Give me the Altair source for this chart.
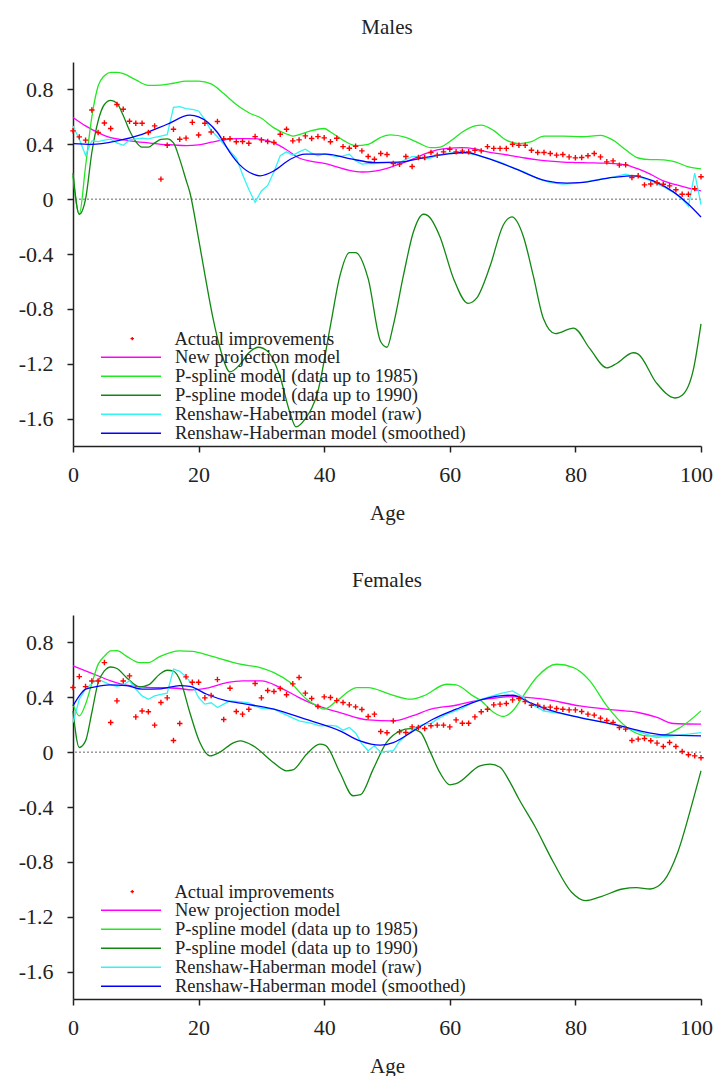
import altair as alt
import pandas as pd

FONT = "Liberation Serif"
TEXT_COLOR = "#222222"

SERIES = [
    "Actual improvements",
    "New projection model",
    "P-spline model (data up to 1985)",
    "P-spline model (data up to 1990)",
    "Renshaw-Haberman model (raw)",
    "Renshaw-Haberman model (smoothed)",
]
LINE_COLORS = ["#ff00ff", "#22e822", "#118811", "#33f4f4", "#0000ff"]
POINT_COLOR = "#ff0000"
PLUS = "M-1,0H1M0,-1V1"

X_TICKS = [0, 20, 40, 60, 80, 100]
Y_TICKS = [-1.6, -1.2, -0.8, -0.4, 0, 0.4, 0.8]

AGES = list(range(101))

# ---------------- Males ----------------
M_ACTUAL = [
    0.498, 0.454, 0.43, 0.65, 0.486, 0.555, 0.515, 0.69, 0.655, 0.568,
    0.553, 0.553, 0.486, 0.534, 0.146, 0.393, 0.51, 0.437, 0.445, 0.56,
    0.468, 0.553, 0.49, 0.566, 0.44, 0.44, 0.418, 0.42, 0.408, 0.456,
    0.432, 0.42, 0.413, 0.473, 0.51, 0.425, 0.432, 0.461, 0.442, 0.456,
    0.447, 0.418, 0.444, 0.383, 0.371, 0.386, 0.352, 0.311, 0.291, 0.333,
    0.325, 0.26, 0.255, 0.311, 0.238, 0.304, 0.304, 0.34, 0.32, 0.345,
    0.364, 0.345, 0.35, 0.345, 0.357, 0.352, 0.383, 0.37, 0.37, 0.37,
    0.40, 0.393, 0.393, 0.357, 0.34, 0.34, 0.333, 0.321, 0.325, 0.308,
    0.301, 0.304, 0.316, 0.333, 0.308, 0.272, 0.279, 0.248, 0.25, 0.158,
    0.17, 0.104, 0.11, 0.12, 0.109, 0.097, 0.068, 0.036, 0.036, 0.077,
    0.163,
]

M_NEW_AGE = list(range(0, 101, 2))
M_NEW_VAL = [
    0.595, 0.534, 0.485, 0.448, 0.432, 0.42, 0.41, 0.40, 0.395, 0.39,
    0.395, 0.415, 0.432, 0.442, 0.442, 0.436, 0.41, 0.36, 0.30, 0.275,
    0.26, 0.235, 0.21, 0.198, 0.205, 0.225, 0.255, 0.29, 0.33, 0.36,
    0.372, 0.375, 0.366, 0.345, 0.33, 0.316, 0.30, 0.287, 0.277, 0.27,
    0.267, 0.265, 0.263, 0.26, 0.25, 0.22, 0.18, 0.133, 0.105, 0.08,
    0.06,
]

M_PS85_AGE = [0, 1, 2, 3, 4, 5, 6, 7, 8, 10, 12, 14, 16, 18, 20, 22, 24, 26, 28, 30,
              32, 34, 35, 36, 38, 40, 41, 43, 45, 47, 49, 50.5, 53, 55, 57, 58.5, 60,
              62, 64, 65, 67, 69, 71, 73, 75, 78, 81, 84, 86, 88, 90, 92, 94, 96, 98, 100]
M_PS85_VAL = [0.17, -0.11, 0.24, 0.60, 0.825, 0.90, 0.925, 0.925, 0.915, 0.87, 0.83,
              0.832, 0.845, 0.86, 0.86, 0.84, 0.77, 0.69, 0.63, 0.59, 0.52, 0.475, 0.46,
              0.47, 0.50, 0.515, 0.49, 0.43, 0.39, 0.40, 0.45, 0.468, 0.45, 0.41, 0.375,
              0.38, 0.42, 0.49, 0.535, 0.54, 0.50, 0.43, 0.405, 0.42, 0.46, 0.46, 0.455,
              0.465, 0.43, 0.36, 0.30, 0.288, 0.287, 0.27, 0.235, 0.22]

M_PS90_AGE = [0, 1, 2, 3, 4, 5, 6, 7, 8, 9, 10, 11, 12, 13, 14, 15, 16, 17, 18, 18.6,
              20, 21, 22.3, 23.5, 25, 26.5, 28, 29.5, 31, 33, 34.5, 35.5, 37, 39, 41,
              42.5, 44, 45, 47, 49, 50, 51, 52.6, 54.2, 55.8, 56.5, 58.4, 60.6, 62.9,
              64.3, 66.4, 68.5, 69.9, 71.7, 73.3, 74.9, 76.8, 79.7, 82.3, 85, 86.5, 89.2,
              90, 92.9, 95.9, 97, 98.8, 100]
M_PS90_VAL = [0.19, -0.11, 0.0, 0.34, 0.57, 0.69, 0.72, 0.70, 0.61, 0.50, 0.42, 0.38,
              0.38, 0.41, 0.435, 0.44, 0.41, 0.29, 0.14, 0.05, -0.29, -0.55, -0.87, -1.1,
              -1.26, -1.21, -1.12, -1.08, -1.11, -1.30, -1.55, -1.66, -1.60, -1.40, -0.92,
              -0.56, -0.39, -0.39, -0.58, -1.04, -1.08, -0.92, -0.56, -0.24, -0.11, -0.12,
              -0.27, -0.58, -0.76, -0.72, -0.49, -0.19, -0.13, -0.27, -0.56, -0.87, -0.98,
              -0.94, -1.09, -1.23, -1.20, -1.12, -1.13, -1.34, -1.45, -1.43, -1.24, -0.91]

M_RAW_AGE = list(range(0, 61)) + [62, 64, 66, 68, 70, 72, 74, 76, 78, 80, 82, 84, 86,
                                  88, 89, 90, 92, 94, 96, 97, 98, 99, 100]
M_RAW_VAL = [0.534, 0.437, 0.32, 0.425, 0.42, 0.43, 0.437, 0.41, 0.393, 0.43,
             0.44, 0.445, 0.44, 0.45, 0.46, 0.47, 0.67, 0.675, 0.66, 0.655,
             0.643, 0.58, 0.50, 0.455, 0.40, 0.35, 0.30, 0.18, 0.07, -0.024,
             0.06, 0.10, 0.20, 0.316, 0.345, 0.32, 0.345, 0.364, 0.335, 0.316,
             0.33, 0.32, 0.31, 0.315, 0.328, 0.28, 0.255, 0.26, 0.26, 0.262,
             0.265, 0.265, 0.267, 0.29, 0.31, 0.31, 0.29, 0.30, 0.32, 0.33,
             0.335, 0.34, 0.325, 0.30, 0.27, 0.23, 0.195, 0.15, 0.12, 0.11,
             0.115, 0.13, 0.145, 0.16, 0.182, 0.17, 0.165, 0.135, 0.09, 0.04,
             0.0, -0.05, 0.19, -0.04]

M_SMO_AGE = [0, 3, 7, 11, 15, 18.6, 20, 23, 25, 26.6, 28.7, 29.8, 32, 34.6, 37, 40.4,
             44, 48, 52, 56, 59.5, 62.7, 64.8, 70, 75.4, 78.6, 80.7, 86, 89.2, 92.4,
             95.6, 97.7, 100]
M_SMO_VAL = [0.405, 0.40, 0.425, 0.473, 0.546, 0.612, 0.60, 0.486, 0.34, 0.248, 0.182,
             0.17, 0.206, 0.291, 0.328, 0.328, 0.296, 0.267, 0.27, 0.303, 0.328, 0.34,
             0.316, 0.23, 0.133, 0.117, 0.12, 0.158, 0.17, 0.133, 0.053, -0.024, -0.13]

# ---------------- Females ----------------
F_ACTUAL = [
    0.471, 0.551, 0.478, 0.519, 0.519, 0.653, 0.216, 0.374, 0.519, 0.556,
    0.257, 0.30, 0.294, 0.197, 0.362, 0.396, 0.085, 0.209, 0.549, 0.51,
    0.51, 0.396, 0.413, 0.529, 0.238, 0.466, 0.296, 0.277, 0.313, 0.50,
    0.396, 0.449, 0.442, 0.464, 0.418, 0.498, 0.544, 0.43, 0.391, 0.333,
    0.403, 0.398, 0.376, 0.362, 0.345, 0.33, 0.311, 0.26, 0.277, 0.151,
    0.141, 0.228, 0.148, 0.143, 0.184, 0.18, 0.172, 0.192, 0.197, 0.197,
    0.184, 0.235, 0.211, 0.211, 0.257, 0.294, 0.313, 0.345, 0.35, 0.355,
    0.381, 0.391, 0.369, 0.342, 0.342, 0.325, 0.328, 0.318, 0.313, 0.308,
    0.308, 0.296, 0.277, 0.27, 0.248, 0.231, 0.216, 0.18, 0.168, 0.085,
    0.095, 0.10, 0.083, 0.066, 0.041, 0.07, 0.041, 0.005, -0.019, -0.027,
    -0.041,
]

F_NEW_AGE = [0, 3, 6, 8.5, 12, 16.5, 19, 21.3, 24.5, 27, 30, 33, 36, 39, 42.5, 47, 51,
             54, 57, 61, 65, 67.5, 70, 75, 80.7, 86, 90, 93, 95.6, 100]
F_NEW_VAL = [0.629, 0.575, 0.52, 0.488, 0.473, 0.466, 0.454, 0.466, 0.507, 0.52, 0.52,
             0.471, 0.398, 0.337, 0.289, 0.235, 0.228, 0.264, 0.313, 0.342, 0.383, 0.396,
             0.405, 0.386, 0.337, 0.308, 0.289, 0.253, 0.209, 0.204]

F_PS85_AGE = [0, 1, 2, 3, 4, 5, 6, 7, 8.5, 10.6, 12, 13.8, 17, 19, 22, 26.6, 29.8, 32,
              34.6, 37.2, 38.8, 40, 42, 45.2, 47, 50.5, 53.7, 55.8, 59.5, 61, 63.7, 65,
              67, 68.5, 70, 71.7, 73.8, 77, 79.7, 82.3, 85, 88.2, 91.4, 93.5, 96.7, 100]
F_PS85_VAL = [0.35, 0.264, 0.35, 0.50, 0.64, 0.70, 0.738, 0.74, 0.70, 0.653, 0.653,
              0.697, 0.738, 0.735, 0.70, 0.641, 0.617, 0.58, 0.507, 0.386, 0.337, 0.313,
              0.374, 0.471, 0.471, 0.422, 0.386, 0.41, 0.495, 0.49, 0.41, 0.374, 0.289,
              0.26, 0.30, 0.41, 0.544, 0.641, 0.617, 0.52, 0.337, 0.18, 0.119, 0.119,
              0.18, 0.301]

F_PS90_AGE = [0, 1, 2, 3, 4, 5, 6, 7, 8.5, 10.6, 12, 13.8, 15, 16, 17.2, 18.6, 20.2,
              21.8, 23.4, 25.6, 26.6, 28.7, 31.9, 34, 35, 37.2, 39.3, 40.2, 42.5, 44.6,
              45.8, 47.8, 49.9, 52.1, 53.7, 55.3, 56.9, 58.4, 60, 61, 64.8, 66.4, 68,
              69.6, 71, 73.5, 76.5, 79.4, 81.6, 83.8, 87.5, 89.7, 91.9, 94.1, 96.3, 98.5,
              100]
F_PS90_VAL = [0.30, 0.034, 0.082, 0.289, 0.507, 0.592, 0.621, 0.61, 0.545, 0.476, 0.49,
              0.568, 0.597, 0.59, 0.507, 0.289, 0.07, -0.027, 0.0, 0.07, 0.082, 0.046,
              -0.075, -0.136, -0.13, -0.015, 0.058, 0.05, -0.148, -0.318, -0.31, -0.124,
              0.07, 0.155, 0.172, 0.146, 0.0, -0.148, -0.238, -0.23, -0.10, -0.087, -0.11,
              -0.221, -0.342, -0.537, -0.803, -1.022, -1.083, -1.058, -0.998, -0.988,
              -0.998, -0.937, -0.73, -0.39, -0.136]

F_RAW_AGE = list(range(0, 31)) + [32, 34, 36, 38, 39.3, 41, 42, 43, 44, 45, 46, 47, 48,
                                  49, 50, 51, 52, 53, 54, 55, 56, 57, 58, 59.5, 62, 64,
                                  66, 68, 70, 71.7, 73, 75, 78, 80, 84, 88, 90, 92.9,
                                  96, 100]
F_RAW_VAL = [0.216, 0.386, 0.459, 0.50, 0.532, 0.51, 0.49, 0.48, 0.49, 0.52,
             0.46, 0.41, 0.386, 0.41, 0.422, 0.43, 0.605, 0.59, 0.55, 0.49,
             0.398, 0.35, 0.36, 0.325, 0.35, 0.374, 0.37, 0.365, 0.36, 0.335,
             0.32, 0.313, 0.27, 0.228, 0.21, 0.192, 0.195, 0.19, 0.16, 0.18,
             0.14, 0.06, 0.01, 0.046, 0.0, 0.005, 0.01, 0.08, 0.12, 0.16,
             0.19, 0.204, 0.21, 0.24, 0.277, 0.32, 0.37, 0.40, 0.427, 0.447,
             0.40, 0.35, 0.30, 0.28, 0.26, 0.22, 0.18, 0.15, 0.107, 0.12,
             0.143]

F_SMO_AGE = [0, 1, 2, 3.7, 5.8, 8.5, 11, 14, 17, 18.6, 21.3, 24.5, 26.6, 32, 37, 42.5,
             45.7, 48.9, 51, 54.2, 57.3, 61, 64.8, 68, 70, 72.7, 75.4, 80.7, 86, 90.3,
             94, 100]
F_SMO_VAL = [0.337, 0.41, 0.459, 0.478, 0.49, 0.485, 0.459, 0.462, 0.485, 0.48, 0.422,
             0.374, 0.357, 0.313, 0.24, 0.155, 0.082, 0.051, 0.07, 0.155, 0.24, 0.313,
             0.379, 0.41, 0.415, 0.362, 0.313, 0.252, 0.204, 0.155, 0.126, 0.119]


def frame(pairs):
    rows = []
    for name, ages, vals in pairs:
        assert len(ages) == len(vals), name
        for a, v in zip(ages, vals):
            rows.append({"series": name, "age": a, "value": v})
    return pd.DataFrame(rows)


Y_LABEL_EXPR = ("datum.value == 0 ? '0' : (datum.value < 0 ? '-' + format(-datum.value, '.1f') "
                ": format(datum.value, '.1f'))")


def panel(title, actual, new, ps85, ps90, raw, smo):
    x = alt.X(
        "age:Q",
        scale=alt.Scale(domain=[0, 100], nice=False, zero=False),
        axis=alt.Axis(values=X_TICKS, title="Age", format="d",
                      labelFont=FONT, titleFont=FONT, labelFontSize=22,
                      titleFontSize=21, titleFontWeight="normal", tickSize=6,
                      labelPadding=12, titlePadding=17, labelFlush=False,
                      labelOffset=alt.condition("datum.value == 100", alt.value(-5), alt.value(0))),
    )
    y = alt.Y(
        "value:Q",
        scale=alt.Scale(domain=[-1.8, 1.0], nice=False, zero=False),
        axis=alt.Axis(values=Y_TICKS, title=None, labelExpr=Y_LABEL_EXPR,
                      labelFont=FONT, labelFontSize=22, tickSize=6, labelPadding=14,
                      minExtent=57, maxExtent=57),
    )
    stroke = alt.Stroke(
        "series:N",
        scale=alt.Scale(domain=SERIES[1:], range=LINE_COLORS),
        legend=alt.Legend(title=None, orient="none", legendX=27, legendY=286,
                          symbolType="stroke", symbolSize=3600, symbolStrokeWidth=1.5,
                          clipHeight=18.25, rowPadding=0, padding=0, labelOffset=13,
                          labelFont=FONT, labelFontSize=18.5, labelColor=TEXT_COLOR,
                          labelLimit=0),
    )
    shape = alt.Shape(
        "series:N",
        scale=alt.Scale(domain=SERIES[:1], range=[PLUS]),
        legend=alt.Legend(title=None, orient="none", legendX=50, legendY=267.5,
                          symbolSize=12, symbolStrokeColor=POINT_COLOR,
                          symbolFillColor="transparent", symbolStrokeWidth=1.3,
                          clipHeight=18.25, rowPadding=0, padding=0, labelOffset=33,
                          labelFont=FONT, labelFontSize=18.5, labelColor=TEXT_COLOR,
                          labelLimit=0),
    )

    smooth_df = frame([(SERIES[1], *new), (SERIES[2], *ps85), (SERIES[3], *ps90)])
    raw_df = frame([(SERIES[4], *raw)])
    smo_df = frame([(SERIES[5], *smo)])
    pts_df = pd.DataFrame({"series": SERIES[0], "age": AGES, "value": actual})

    zero = alt.Chart(pd.DataFrame({"value": [0.0]})).mark_rule(
        color="#666666", strokeDash=[2, 2], strokeWidth=1
    ).encode(y=alt.Y("value:Q"))

    smooth = alt.Chart(smooth_df).mark_line(strokeWidth=1.3, interpolate="monotone").encode(
        x=x, y=y, stroke=stroke)
    rawl = alt.Chart(raw_df).mark_line(strokeWidth=1.3).encode(x=x, y=y, stroke=stroke)
    smol = alt.Chart(smo_df).mark_line(strokeWidth=1.3, interpolate="monotone").encode(
        x=x, y=y, stroke=stroke)
    pts = alt.Chart(pts_df).mark_point(filled=False, color=POINT_COLOR, size=30,
                                       strokeWidth=1.4, opacity=1).encode(
        x=x, y=y, shape=shape)

    return alt.layer(zero, smooth, rawl, smol, pts).properties(
        width=628, height=384,
        title=alt.TitleParams(title, font=FONT, fontSize=21, fontWeight="normal",
                              color=TEXT_COLOR, offset=24),
    )


males = panel("Males", M_ACTUAL, (M_NEW_AGE, M_NEW_VAL), (M_PS85_AGE, M_PS85_VAL),
              (M_PS90_AGE, M_PS90_VAL), (M_RAW_AGE, M_RAW_VAL), (M_SMO_AGE, M_SMO_VAL))
females = panel("Females", F_ACTUAL, (F_NEW_AGE, F_NEW_VAL), (F_PS85_AGE, F_PS85_VAL),
                (F_PS90_AGE, F_PS90_VAL), (F_RAW_AGE, F_RAW_VAL), (F_SMO_AGE, F_SMO_VAL))

chart = (
    alt.vconcat(males, females, spacing=47)
    .resolve_scale(x="independent", y="independent", stroke="independent", shape="independent")
    .resolve_legend(stroke="independent", shape="independent")
    .properties(padding={"left": 8, "top": 9, "right": 0, "bottom": 0})
    .configure_view(stroke=None)
    .configure_axis(grid=False, domainColor=TEXT_COLOR, tickColor=TEXT_COLOR,
                    domainWidth=1.5, tickWidth=1.5, labelColor=TEXT_COLOR,
                    titleColor=TEXT_COLOR, labelFont=FONT, titleFont=FONT)
)

chart.save("out.html", embed_options={"renderer": "svg", "actions": False})
